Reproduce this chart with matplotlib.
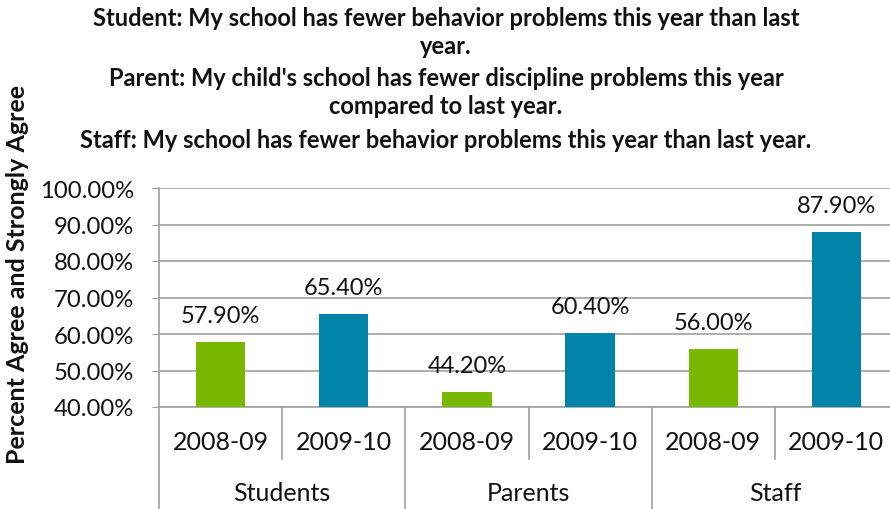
import matplotlib.pyplot as plt
from matplotlib.ticker import FuncFormatter
import matplotlib.transforms as mtransforms

plt.rcParams['font.family'] = ['Lato', 'DejaVu Sans']

groups = ["Students", "Parents", "Staff"]
years = ["2008-09", "2009-10"]
values = [57.9, 65.4, 44.2, 60.4, 56.0, 87.9]
colors = ["#78B800", "#0083A9"]

title_lines = [
    "Student: My school has fewer behavior problems this year than last",
    "year.",
    "Parent: My child's school has fewer discipline problems this year",
    "compared to last year.",
    "Staff: My school has fewer behavior problems this year than last year.",
]

W, H = 890, 510
fig = plt.figure(figsize=(W / 100, H / 100), dpi=100)
ax = fig.add_axes([159 / W, 1 - 408 / H, 739 / W, 219 / H])

x = [i + 0.5 for i in range(len(values))]
bar_colors = [colors[i % 2] for i in range(len(values))]
ax.bar(x, values, width=0.4, bottom=0, color=bar_colors, zorder=3)

for xi, v in zip(x, values):
    ax.annotate(f"{v:.2f}%", (xi, v), xytext=(0, 19), textcoords="offset points",
                ha="center", va="center", fontsize=17, color="#111111")

ax.set_xlim(0, 6)
ax.set_ylim(40, 100)
ax.set_yticks(range(40, 101, 10))
ax.yaxis.set_major_formatter(FuncFormatter(lambda v, p: f"{v:.2f}%"))
ax.tick_params(axis="y", length=5, color="#999999", labelsize=17.2, pad=13, labelcolor="#111111")
ax.set_xticks([])
ax.grid(axis="y", color="#A0A0A0", linewidth=1.2, zorder=0)
for s in ["top", "right"]:
    ax.spines[s].set_visible(False)
for s in ["left", "bottom"]:
    ax.spines[s].set_color("#A0A0A0")
    ax.spines[s].set_linewidth(1.2)

# category axis: separators and two label rows
trans = mtransforms.blended_transform_factory(ax.transData, fig.transFigure)
for i in range(7):
    bottom = 0 if i % 2 == 0 else 1 - 460 / H
    ax.plot([i, i], [1 - 408 / H, bottom], transform=trans, color="#A0A0A0",
            linewidth=1.2, clip_on=False)
for i, xi in enumerate(x):
    fig.text(xi, 1 - 443 / H, years[i % 2], transform=trans, ha="center", va="center",
             fontsize=18, color="#111111")
for g, name in enumerate(groups):
    fig.text(2 * g + 1, 1 - 494 / H, name, transform=trans, ha="center", va="center",
             fontsize=18, color="#111111")

ys = [18, 47, 78, 107, 140]
for line, yp in zip(title_lines, ys):
    fig.text(446 / W, 1 - yp / H, line, ha="center", va="center", fontsize=17,
             fontweight="bold", color="#111111")

fig.text(18 / W, 1 - 275 / H, "Percent Agree and Strongly Agree", rotation=90,
         ha="center", va="center", fontsize=18, fontweight="bold", color="#111111")

fig.savefig("out.png", dpi=100)
